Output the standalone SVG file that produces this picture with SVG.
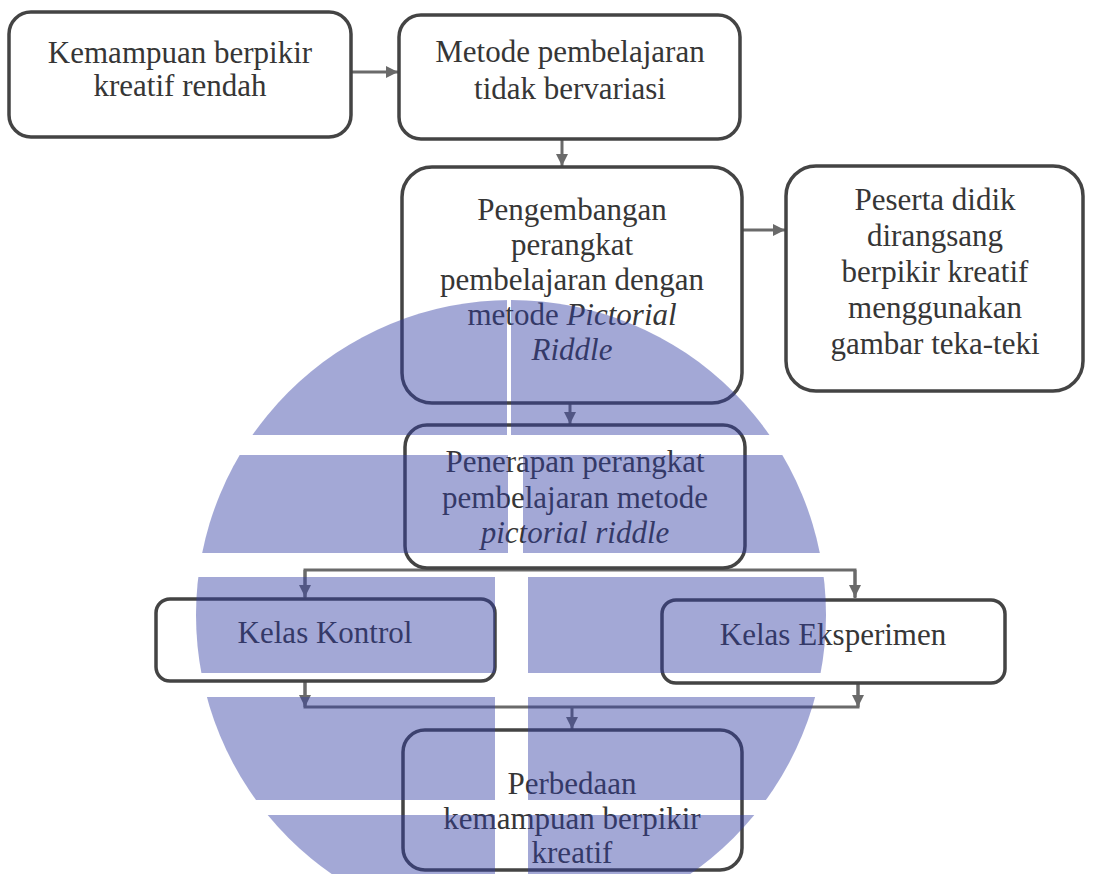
<svg xmlns="http://www.w3.org/2000/svg" width="1093" height="874" viewBox="0 0 1093 874">
<style>
.box{fill:none;stroke:#444444;stroke-width:3.5}
.lbl{font-family:'Liberation Serif','Times New Roman',serif;font-size:31px;fill:#363636;text-anchor:middle}
.it{font-style:italic}
.con{fill:none;stroke:#6a6a6a;stroke-width:3}
.wm{fill:#333ea4;fill-opacity:0.45}
</style>
<defs>
<marker id="ah" viewBox="0 0 10 10" refX="10" refY="5" markerWidth="4" markerHeight="4" orient="auto" markerUnits="strokeWidth">
<path d="M0,0 L10,5 L0,10 z" fill="#6a6a6a"/>
</marker>
<clipPath id="wmclip"><circle cx="511" cy="615" r="315"/></clipPath>
</defs>
<rect width="1093" height="874" fill="#ffffff"/>

<g id="connectors">
<line class="con" x1="352" y1="72" x2="398" y2="72" marker-end="url(#ah)"/>
<line class="con" x1="562" y1="139" x2="562" y2="166" marker-end="url(#ah)"/>
<line class="con" x1="742" y1="230" x2="785" y2="230" marker-end="url(#ah)"/>
<line class="con" x1="570" y1="403" x2="570" y2="424" marker-end="url(#ah)"/>
<polyline class="con" points="305,598 305,570 855,570 855,598"/>
<line class="con" x1="305" y1="570" x2="305" y2="597" marker-end="url(#ah)"/>
<line class="con" x1="855" y1="570" x2="855" y2="597" marker-end="url(#ah)"/>
<polyline class="con" points="305,681 305,707 858,707 858,684"/>
<line class="con" x1="305" y1="681" x2="305" y2="707" marker-end="url(#ah)"/>
<line class="con" x1="858" y1="684" x2="858" y2="707" marker-end="url(#ah)"/>
<line class="con" x1="572" y1="707" x2="572" y2="729" marker-end="url(#ah)"/>
</g>

<g id="n1">
<rect class="box" x="9" y="12" width="342" height="125" rx="22"/>
<text class="lbl" x="180" y="63">Kemampuan berpikir</text>
<text class="lbl" x="180" y="96">kreatif rendah</text>
</g>
<g id="n2">
<rect class="box" x="399" y="15" width="341" height="124" rx="22"/>
<text class="lbl" x="570" y="62">Metode pembelajaran</text>
<text class="lbl" x="570" y="99">tidak bervariasi</text>
</g>
<g id="n3">
<rect class="box" x="402" y="167" width="340" height="236" rx="30"/>
<text class="lbl" x="572" y="220">Pengembangan</text>
<text class="lbl" x="572" y="255">perangkat</text>
<text class="lbl" x="572" y="290">pembelajaran dengan</text>
<text class="lbl" x="572" y="325">metode <tspan class="it">Pictorial</tspan></text>
<text class="lbl it" x="572" y="360">Riddle</text>
</g>
<g id="n4">
<rect class="box" x="786" y="166" width="297" height="225" rx="30"/>
<text class="lbl" x="935" y="210">Peserta didik</text>
<text class="lbl" x="935" y="246">dirangsang</text>
<text class="lbl" x="935" y="282">berpikir kreatif</text>
<text class="lbl" x="935" y="318">menggunakan</text>
<text class="lbl" x="935" y="354">gambar teka-teki</text>
</g>
<g id="n5">
<rect class="box" x="405" y="425" width="340" height="143" rx="22"/>
<text class="lbl" x="575" y="472">Penerapan perangkat</text>
<text class="lbl" x="575" y="508">pembelajaran metode</text>
<text class="lbl it" x="575" y="543">pictorial riddle</text>
</g>
<g id="n6">
<rect class="box" x="156" y="599" width="339" height="82" rx="14"/>
<text class="lbl" x="325" y="643">Kelas Kontrol</text>
</g>
<g id="n7">
<rect class="box" x="662" y="600" width="343" height="83" rx="14"/>
<text class="lbl" x="833" y="645">Kelas Eksperimen</text>
</g>
<g id="n8">
<rect class="box" x="403" y="730" width="339" height="140" rx="22"/>
<text class="lbl" x="572" y="794">Perbedaan</text>
<text class="lbl" x="572" y="829">kemampuan berpikir</text>
<text class="lbl" x="572" y="863">kreatif</text>
</g>

<g id="watermark" clip-path="url(#wmclip)">
<rect class="wm" x="190" y="295" width="317" height="140"/>
<rect class="wm" x="511" y="295" width="320" height="140"/>
<rect class="wm" x="190" y="455" width="318" height="98"/>
<rect class="wm" x="523" y="455" width="308" height="98"/>
<rect class="wm" x="190" y="577" width="305" height="96"/>
<rect class="wm" x="528" y="577" width="303" height="96"/>
<rect class="wm" x="190" y="697" width="305" height="103"/>
<rect class="wm" x="528" y="697" width="303" height="103"/>
<rect class="wm" x="190" y="815" width="305" height="60"/>
<rect class="wm" x="528" y="815" width="303" height="60"/>
</g>
</svg>
